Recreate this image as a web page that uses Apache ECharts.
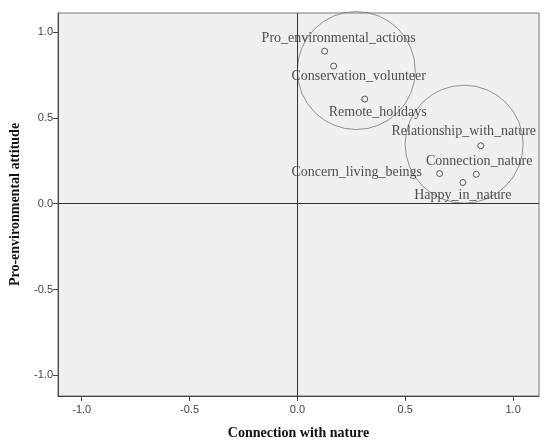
<!DOCTYPE html>
<html>
<head>
<meta charset="utf-8">
<script src="https://cdn.jsdelivr.net/npm/echarts@6/dist/echarts.min.js"></script>
<style>
  html, body { margin: 0; padding: 0; background: #fff; }
  #chart { width: 550px; height: 445px; }
</style>
</head>
<body>
<div id="chart"></div>
<script>
  // item coordinates
  var names = ['Pro_environmental_actions', 'Conservation_volunteer', 'Remote_holidays',
    'Relationship_with_nature', 'Connection_nature', 'Concern_living_beings', 'Happy_in_nature']
  var xValues = [0.126, 0.168, 0.312, 0.850, 0.829, 0.659, 0.767]
  var yValues = [0.888, 0.801, 0.609, 0.337, 0.171, 0.175, 0.123]

  // centres of the two group circles
  var clusterX = [0.273, 0.773]
  var clusterY = [0.775, 0.346]

  var tickValues = [-1, -0.5, 0, 0.5, 1]

  // where each name sits around its point
  var labelPlace = {
    Pro_environmental_actions: { position: 'inside', offset: [14, -13] },
    Conservation_volunteer: { position: 'inside', offset: [25, 10] },
    Remote_holidays: { position: 'inside', offset: [13, 13] },
    Relationship_with_nature: { position: 'inside', offset: [-17, -14] },
    Connection_nature: { position: 'inside', offset: [3, -13] },
    Concern_living_beings: { position: 'left', distance: 14, offset: [0, -1] },
    Happy_in_nature: { position: 'inside', offset: [0, 13] }
  }

  var points = []
  for (var i = 0; i < names.length; i++) {
    var p = labelPlace[names[i]]
    points.push({
      name: names[i],
      value: [xValues[i], yValues[i]],
      label: { position: p.position, distance: p.distance || 5, offset: p.offset }
    })
  }
  var circles = []
  for (var j = 0; j < clusterX.length; j++) {
    circles.push([clusterX[j], clusterY[j]])
  }

  var tickLabel = {
    customValues: tickValues,
    color: '#444',
    fontFamily: 'Liberation Sans',
    fontSize: 11,
    formatter: function (v) { return v.toFixed(1) }
  }

  var myChart = echarts.init(document.getElementById('chart'))
  myChart.setOption({
    animation: false,
    grid: {
      left: 57,
      right: 11,
      top: 13,
      bottom: 45,
      show: true,
      backgroundColor: '#f0f0f0',
      borderColor: '#777',
      borderWidth: 1
    },
    xAxis: {
      type: 'value',
      min: -1.11,
      max: 1.12,
      name: 'Connection with nature',
      nameLocation: 'middle',
      nameGap: 30,
      nameTextStyle: { fontFamily: 'Liberation Serif', fontWeight: 'bold', fontSize: 14, color: '#111' },
      axisLine: { onZero: false, lineStyle: { color: '#444' } },
      axisTick: { customValues: tickValues, length: 5, lineStyle: { color: '#444' } },
      axisLabel: Object.assign({ margin: 8 }, tickLabel),
      splitLine: { show: false }
    },
    yAxis: {
      type: 'value',
      min: -1.12,
      max: 1.11,
      name: 'Pro-environmental attitude',
      nameLocation: 'middle',
      nameGap: 36,
      nameTextStyle: { fontFamily: 'Liberation Serif', fontWeight: 'bold', fontSize: 14, color: '#111' },
      axisLine: { onZero: false, lineStyle: { color: '#444' } },
      axisTick: { customValues: tickValues, length: 5, lineStyle: { color: '#444' } },
      axisLabel: Object.assign({ margin: 5 }, tickLabel),
      splitLine: { show: false }
    },
    series: [
      {
        name: 'groups',
        type: 'scatter',
        silent: true,
        symbol: 'circle',
        symbolSize: 118,
        itemStyle: { color: 'rgba(0,0,0,0)', borderColor: '#777', borderWidth: 1 },
        data: circles,
        markLine: {
          silent: true,
          symbol: 'none',
          label: { show: false },
          lineStyle: { color: '#333', width: 1, type: 'solid' },
          data: [{ xAxis: 0 }, { yAxis: 0 }]
        }
      },
      {
        name: 'items',
        type: 'scatter',
        symbol: 'circle',
        symbolSize: 6,
        itemStyle: { color: '#f0f0f0', borderColor: '#333', borderWidth: 1 },
        label: {
          show: true,
          formatter: '{b}',
          fontFamily: 'Liberation Serif',
          fontSize: 14,
          color: '#222'
        },
        data: points
      }
    ]
  })
</script>
</body>
</html>
